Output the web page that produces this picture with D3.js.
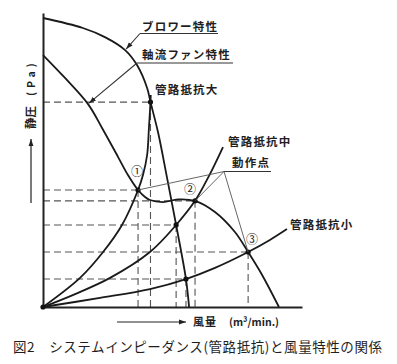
<!DOCTYPE html>
<html lang="ja">
<head>
<meta charset="UTF-8">
<script src="https://d3js.org/d3.v7.min.js"></script>
<style>
  body { margin: 0; background: #fff; }
  text { font-family: "Noto Sans CJK JP", "Noto Sans", sans-serif; fill: #1e1e1e; }
</style>
</head>
<body>
<div id="chart"></div>
<script>
const w = 397, h = 364;

// [flow, static pressure] on a 0-100 scale (the figure has no ticks)
const blowerCurve = [[0, 98.3], [15.4, 94.9], [23.9, 91.8], [31.7, 87.4], [36.3, 82.3], [40.2, 74.5],
  [41.5, 69.7], [44.4, 59.5], [47.9, 43.9], [51.4, 27.9], [55.2, 9.5], [56.4, 0]];
const axialCurve = [[0, 85.7], [8.5, 77.9], [17.4, 69.0], [22.8, 60.9], [29.0, 51.0], [32.8, 44.9],
  [36.7, 39.8], [39.4, 37.4], [41.3, 36.4], [46.3, 35.7], [52.1, 36.6], [58.7, 36.1], [66.4, 32.3],
  [74.1, 25.5], [79.2, 18.7], [84.6, 10.9], [91.1, 0]];
const resistHigh = [[0, 0], [14.3, 9.9], [23.2, 18.7], [30.5, 27.9], [36.7, 39.8], [38.6, 44.9],
  [40.2, 51.7], [40.9, 60.9], [41.5, 69.7], [41.6, 72.1]];
const resistMid = [[0, 0], [12.4, 4.4], [25.9, 9.9], [41.3, 18.7], [51.4, 27.9], [58.7, 36.1],
  [64.1, 44.6], [69.5, 54.4]];
const resistLow = [[0, 0], [22.0, 3.1], [41.3, 6.1], [55.2, 9.5], [66.4, 13.3], [79.2, 18.7],
  [87.6, 22.8], [94.2, 26.5]];

// intersections (dashed guides go from each to both axes)
const crossPoints = [[41.5, 69.7], [36.7, 39.8], [58.7, 36.1], [51.4, 27.9], [79.2, 18.7], [55.2, 9.5]];
// operating points ① ② ③
const opPoints = [[36.7, 39.8], [58.7, 36.1], [79.2, 18.7]];
const opLabels = ["①", "②", "③"];
const opOffsets = [[-1, -14], [-5, -7], [4, -8]];

// where the leaders of the curve labels touch the curves
const blowerLeaderAt = [31.7, 87.4];
const axialLeaderAt = [17.4, 69.0];

const svg = d3.select("#chart").append("svg")
  .attr("width", w).attr("height", h);

svg.append("defs").append("marker")
  .attr("id", "arrow")
  .attr("viewBox", "0 0 10 10")
  .attr("refX", 10).attr("refY", 5)
  .attr("markerWidth", 7).attr("markerHeight", 7)
  .attr("markerUnits", "userSpaceOnUse")
  .attr("orient", "auto")
  .append("path")
  .attr("d", "M0,1.5L10,5L0,8.5Z")
  .attr("fill", "#222");

const x = d3.scaleLinear().domain([0, 100]).range([43, 302]);
const y = d3.scaleLinear().domain([0, 100]).range([307, 13]);

// dashed guides
const guides = svg.append("g")
  .attr("stroke", "#555").attr("stroke-width", 1.1)
  .attr("stroke-dasharray", "7,4").attr("fill", "none");
crossPoints.forEach(p => {
  guides.append("line").attr("x1", x(0)).attr("x2", x(p[0])).attr("y1", y(p[1])).attr("y2", y(p[1]));
  guides.append("line").attr("x1", x(p[0])).attr("x2", x(p[0])).attr("y1", y(p[1])).attr("y2", y(0));
});

// axes
svg.append("g").attr("transform", `translate(0,${y(0)})`)
  .call(d3.axisBottom(x).ticks(0).tickSizeOuter(0))
  .select(".domain").attr("stroke", "#222").attr("stroke-width", 2);
svg.append("g").attr("transform", `translate(${x(0)},0)`)
  .call(d3.axisLeft(y).ticks(0).tickSizeOuter(0))
  .select(".domain").attr("stroke", "#222").attr("stroke-width", 2);

// curves
const line = d3.line()
  .x(d => x(d[0]))
  .y(d => y(d[1]))
  .curve(d3.curveCatmullRom.alpha(0.5));

[blowerCurve, axialCurve, resistHigh, resistMid, resistLow].forEach(c => {
  svg.append("path")
    .datum(c)
    .attr("d", line)
    .attr("fill", "none")
    .attr("stroke", "#1a1a1a")
    .attr("stroke-width", 1.8);
});

// dots
svg.selectAll("circle.dot")
  .data(crossPoints.concat([[0, 0]]))
  .enter().append("circle")
  .attr("class", "dot")
  .attr("cx", d => x(d[0])).attr("cy", d => y(d[1]))
  .attr("r", 2.6).attr("fill", "#111");

// circled numbers
svg.selectAll("text.op")
  .data(opPoints)
  .enter().append("text")
  .attr("class", "op")
  .attr("x", (d, i) => x(d[0]) + opOffsets[i][0])
  .attr("y", (d, i) => y(d[1]) + opOffsets[i][1])
  .attr("text-anchor", "middle")
  .style("font-size", "12px")
  .text((d, i) => opLabels[i]);

// label leaders
const leaders = svg.append("g").attr("fill", "none").attr("stroke", "#333");
leaders.append("line").attr("x1", 140).attr("y1", 33.5).attr("x2", 218).attr("y2", 33.5).attr("stroke-width", 1);
leaders.append("line").attr("x1", 140).attr("y1", 33.5)
  .attr("x2", x(blowerLeaderAt[0]) + 1).attr("y2", y(blowerLeaderAt[1]) - 1)
  .attr("stroke-width", 1.1).attr("marker-end", "url(#arrow)");
leaders.append("line").attr("x1", 137).attr("y1", 63).attr("x2", 233).attr("y2", 63).attr("stroke-width", 1);
leaders.append("line").attr("x1", 137).attr("y1", 63)
  .attr("x2", x(axialLeaderAt[0]) + 1).attr("y2", y(axialLeaderAt[1]) - 1)
  .attr("stroke-width", 1.1).attr("marker-end", "url(#arrow)");
leaders.append("line").attr("x1", 224).attr("y1", 171.5).attr("x2", 271).attr("y2", 171.5).attr("stroke-width", 1);
opPoints.forEach(p => {
  leaders.append("line").attr("x1", 224).attr("y1", 171.5)
    .attr("x2", x(p[0])).attr("y2", y(p[1]))
    .attr("stroke", "#555").attr("stroke-width", 0.9);
});

// curve labels
const labels = [
  ["ブロワー特性", 142, 31],
  ["軸流ファン特性", 142, 59],
  ["管路抵抗大", 155, 94],
  ["管路抵抗中", 228, 146],
  ["動作点", 232, 167],
  ["管路抵抗小", 290, 229]
];
svg.selectAll("text.lbl")
  .data(labels)
  .enter().append("text")
  .attr("class", "lbl")
  .attr("x", d => d[1]).attr("y", d => d[2])
  .style("font-size", "11.5px")
  .style("font-weight", "bold")
  .style("letter-spacing", "1.2px")
  .text(d => d[0]);

// y label + arrow
const yl = svg.append("text")
  .attr("transform", "translate(35,129) rotate(-90)")
  .style("font-size", "11.5px")
  .style("font-weight", "bold");
yl.append("tspan").text("静圧");
yl.append("tspan").attr("dx", 10).style("letter-spacing", "4px").style("font-size", "10.5px").text("(Pa)");
svg.append("line").attr("x1", 31).attr("y1", 203).attr("x2", 31).attr("y2", 139)
  .attr("stroke", "#222").attr("stroke-width", 1.2).attr("marker-end", "url(#arrow)");

// x label + arrow
svg.append("line").attr("x1", 117).attr("y1", 322).attr("x2", 186).attr("y2", 322)
  .attr("stroke", "#222").attr("stroke-width", 1.2).attr("marker-end", "url(#arrow)");
const xl = svg.append("text").attr("x", 193).attr("y", 326)
  .style("font-size", "11px").style("font-weight", "bold");
xl.append("tspan").style("letter-spacing", "1px").text("風量");
xl.append("tspan").attr("dx", 12).style("font-size", "10.5px").text("(m³/min.)");

// caption
svg.append("text")
  .attr("x", 13).attr("y", 352)
  .attr("textLength", 369).attr("lengthAdjust", "spacing")
  .style("font-size", "13.5px")
  .text("図2　システムインピーダンス(管路抵抗)と風量特性の関係");
</script>
</body>
</html>
